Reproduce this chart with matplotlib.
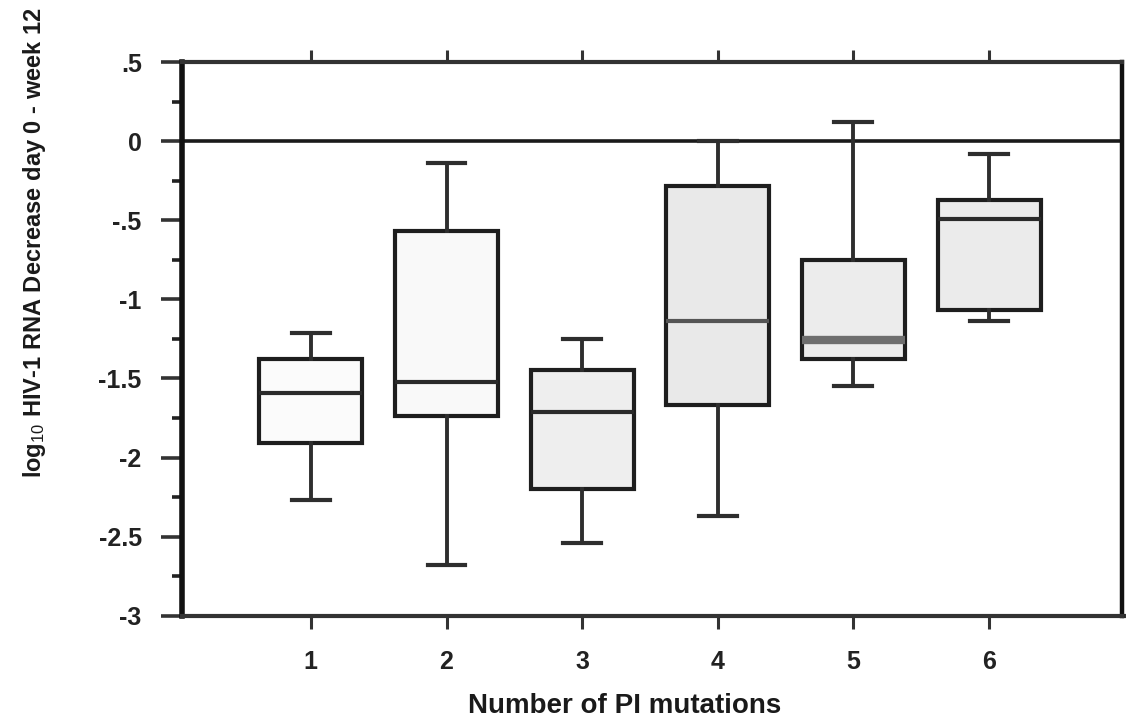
import matplotlib
matplotlib.use("Agg")
import matplotlib.pyplot as plt
from matplotlib.ticker import MultipleLocator, FixedLocator

# ---- data ----
categories = [1, 2, 3, 4, 5, 6]
whisker_low = [-2.27, -2.68, -2.54, -2.37, -1.55, -1.14]
quartile1 = [-1.91, -1.735, -2.20, -1.67, -1.38, -1.065]
medians = [-1.59, -1.52, -1.71, -1.14, -1.255, -0.49]
quartile3 = [-1.38, -0.57, -1.445, -0.285, -0.75, -0.37]
whisker_high = [-1.21, -0.14, -1.25, 0.0, 0.12, -0.08]
ytick_values = [0.5, 0, -0.5, -1, -1.5, -2, -2.5, -3]
ytick_labels = [".5", "0", "-.5", "-1", "-1.5", "-2", "-2.5", "-3"]
xlabel_text = "Number of PI mutations"
ylabel_text = "log$_{10}$ HIV-1 RNA Decrease day 0 - week 12"

plt.rcParams['font.family'] = ['Liberation Sans', 'DejaVu Sans']
plt.rcParams['mathtext.fontset'] = 'custom'
plt.rcParams['mathtext.rm'] = 'Liberation Sans'
plt.rcParams['mathtext.it'] = 'Liberation Sans'

fig = plt.figure(figsize=(11.26, 7.24), dpi=100)
ax = fig.add_axes([182/1126, 1-615.7/724, (1122-182)/1126, (615.7-62)/724])

stats = []
for c, lo, a, m, b, hi in zip(categories, whisker_low, quartile1, medians, quartile3, whisker_high):
    stats.append(dict(label=str(c), whislo=lo, q1=a, med=m, q3=b, whishi=hi, fliers=[]))

fills = ['#fbfbfb', '#f9f9f9', '#eeeeee', '#e9e9e9', '#ececec', '#ebebeb']
median_colors = ['#2a2a2a', '#2a2a2a', '#2a2a2a', '#555555', '#6e6e6e', '#2a2a2a']
median_widths = [3.0, 3.0, 3.0, 3.0, 6.0, 3.0]

bp = ax.bxp(stats, positions=categories, widths=0.76, patch_artist=True,
            showfliers=False,
            boxprops=dict(edgecolor='#1e1e1e', linewidth=3.0),
            whiskerprops=dict(color='#2e2e2e', linewidth=2.8),
            capprops=dict(color='#2e2e2e', linewidth=3.0),
            medianprops=dict(color='#2a2a2a', linewidth=3.0),
            capwidths=0.28, zorder=3)
for patch, fc in zip(bp['boxes'], fills):
    patch.set_facecolor(fc)
for line, col, lw in zip(bp['medians'], median_colors, median_widths):
    line.set_color(col)
    line.set_linewidth(lw)

ax.axhline(0, color='#1a1a1a', linewidth=2.6, zorder=2)

ax.set_xlim(0.05, 6.98)
ax.set_ylim(-3, 0.5)

ax.yaxis.set_major_locator(FixedLocator(ytick_values))
ax.set_yticks(ytick_values)
ax.set_yticklabels(ytick_labels, fontsize=18, fontweight='bold', color='#222222')
ax.yaxis.set_minor_locator(MultipleLocator(0.25))
ax.tick_params(axis='y', which='major', direction='out', length=15, width=2.6,
               color='#333333', pad=14)
ax.tick_params(axis='y', which='minor', direction='out', length=7, width=2.6,
               color='#222222')

ax.set_xticks(categories)
ax.set_xticklabels([str(c) for c in categories], fontsize=18, fontweight='bold',
                   color='#222222')
ax.tick_params(axis='x', which='both', direction='out', length=9, width=2.2,
               color='#333333', pad=16, top=True, labeltop=False)

for side, lw, col in [('left', 4.0, '#111111'), ('right', 3.2, '#111111'),
                      ('top', 3.0, '#333333'), ('bottom', 3.0, '#333333')]:
    ax.spines[side].set_linewidth(lw)
    ax.spines[side].set_color(col)

# bottom rule continues to the figure edge on the right
ax.plot([1.0, (1126-182)/940], [0, 0], transform=ax.transAxes, color='#333333',
        linewidth=3.0, clip_on=False, solid_capstyle='butt')

fig.text(625/1126, 1-706/724, xlabel_text, fontsize=20, fontweight='bold',
         ha='center', va='center', color='#1a1a1a')
fig.text(35/1126, 1-243/724, ylabel_text, fontsize=17, fontweight='bold',
         rotation=90, ha='center', va='center', color='#1a1a1a')

fig.savefig('out.png', dpi=100)
